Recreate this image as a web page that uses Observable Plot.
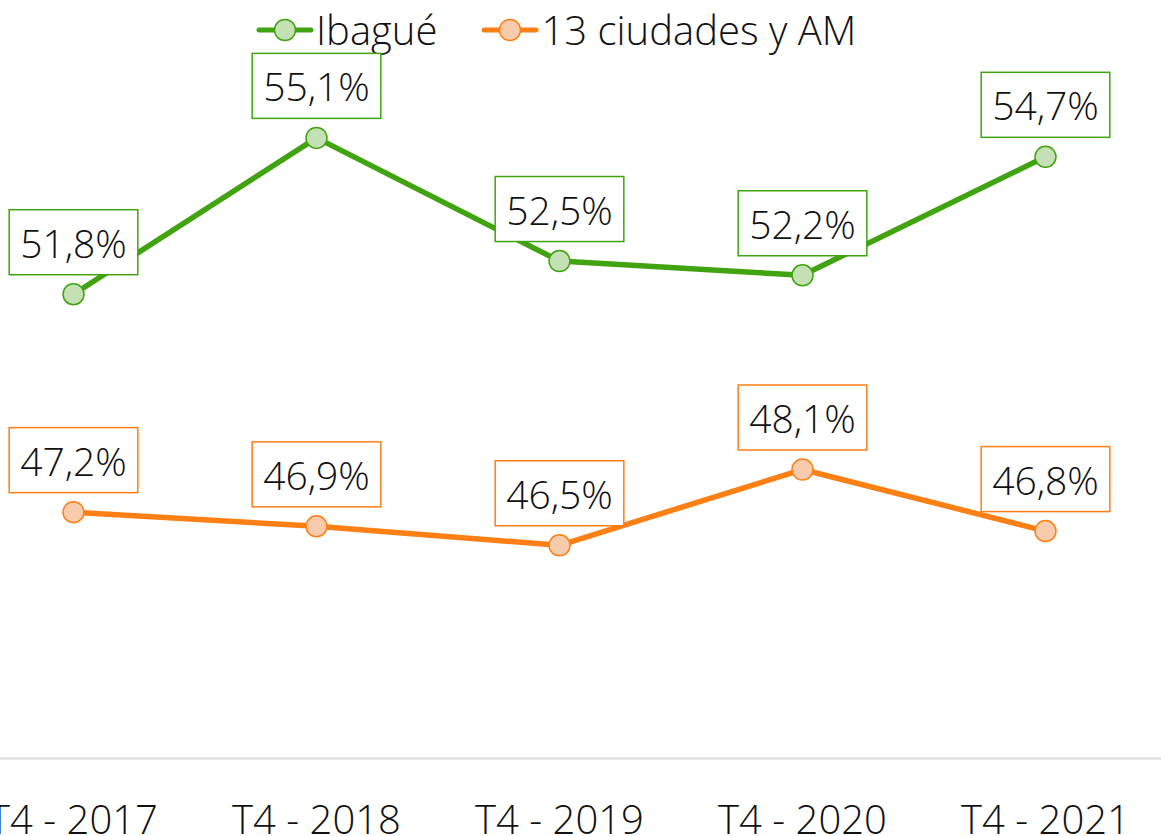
<!DOCTYPE html>
<html>
<head>
<meta charset="utf-8">
<script src="https://cdn.jsdelivr.net/npm/d3@7"></script>
<script src="https://cdn.jsdelivr.net/npm/@observablehq/plot@0.6"></script>
<style>
  body { margin: 0; background: #fff; font-family: "Open Sans", "Noto Sans", sans-serif; font-weight: 300; }
  #wrap { position: relative; width: 1161px; height: 836px; overflow: hidden; }
  #legend { position: absolute; top: 2px; left: 256px; display: flex; align-items: center; gap: 44px; font-size: 40px; color: #111; }
  .item { display: flex; align-items: center; }
  .item svg { display: block; margin-right: 2px; }
</style>
</head>
<body>
<div id="wrap"><div id="legend"></div></div>
<script>
const periods = ["T4 - 2017", "T4 - 2018", "T4 - 2019", "T4 - 2020", "T4 - 2021"];
const seriesNames = ["Ibagué", "13 ciudades y AM"];
const ibague = [51.8, 55.1, 52.5, 52.2, 54.7];
const ciudades = [47.2, 46.9, 46.5, 48.1, 46.8];
const lineColors = ["#3fa40f", "#fe7f14"];
const fillColors = ["#c5e0b4", "#f8cbad"];

const rows = [];
[ibague, ciudades].forEach((vals, s) => {
  vals.forEach((v, i) => rows.push({period: periods[i], value: v, series: seriesNames[s]}));
});

const fmt = v => v.toFixed(1).replace(".", ",") + "%";

const chart = Plot.plot({
  width: 1161,
  height: 836,
  marginTop: 0,
  marginBottom: 78,
  marginLeft: 0,
  marginRight: 0,
  style: {fontFamily: "'Open Sans', 'Noto Sans', sans-serif", fontWeight: 300, background: "transparent", overflow: "visible"},
  x: {type: "point", domain: periods, range: [73, 1045], padding: 0},
  y: {domain: [42, 58], axis: null},
  color: {domain: seriesNames, range: lineColors},
  marks: [
    Plot.ruleY([42], {stroke: "#d9d9d9", strokeWidth: 2}),
    Plot.axisX({tickSize: 0, tickPadding: 47, fontSize: 40, label: null, fill: "#111"}),
    Plot.line(rows, {x: "period", y: "value", z: "series", stroke: "series", strokeWidth: 5.5, strokeLinejoin: "round"}),
    Plot.dot(rows, {x: "period", y: "value", r: 10.5, stroke: "series", strokeWidth: 1.5,
      fill: d => fillColors[seriesNames.indexOf(d.series)]}),
    Plot.text(rows, {x: "period", y: "value", text: d => fmt(d.value), dy: -49, fontSize: 39, fill: "#111"})
  ]
});

document.getElementById("wrap").appendChild(chart);
chart.style.position = "absolute";
chart.style.left = "0";
chart.style.top = "0";

// boxes behind value labels
const labelTexts = d3.select(chart).selectAll('g[aria-label="text"] text').nodes();
labelTexts.forEach((t, i) => {
  const b = t.getBBox();
  const d = rows[i];
  const padX = 11, padY = 6;
  const rect = document.createElementNS("http://www.w3.org/2000/svg", "rect");
  rect.setAttribute("x", b.x - padX);
  rect.setAttribute("y", b.y - padY);
  rect.setAttribute("width", b.width + 2 * padX);
  rect.setAttribute("height", b.height + 2 * padY);
  rect.setAttribute("fill", "#fff");
  rect.setAttribute("stroke", lineColors[seriesNames.indexOf(d.series)]);
  rect.setAttribute("stroke-width", 1.5);
  const tr = t.getAttribute("transform");
  if (tr) rect.setAttribute("transform", tr);
  t.parentNode.insertBefore(rect, t);
});

// legend
const legend = d3.select("#legend");
seriesNames.forEach((name, s) => {
  const item = legend.append("div").attr("class", "item");
  const sw = item.append("svg").attr("width", 58).attr("height", 30);
  sw.append("line").attr("x1", 3).attr("x2", 55).attr("y1", 15).attr("y2", 15)
    .attr("stroke", lineColors[s]).attr("stroke-width", 5).attr("stroke-linecap", "round");
  sw.append("circle").attr("cx", 29).attr("cy", 15).attr("r", 10.5)
    .attr("fill", fillColors[s]).attr("stroke", lineColors[s]).attr("stroke-width", 1.5);
  item.append("span").text(name);
});
</script>
</body>
</html>
